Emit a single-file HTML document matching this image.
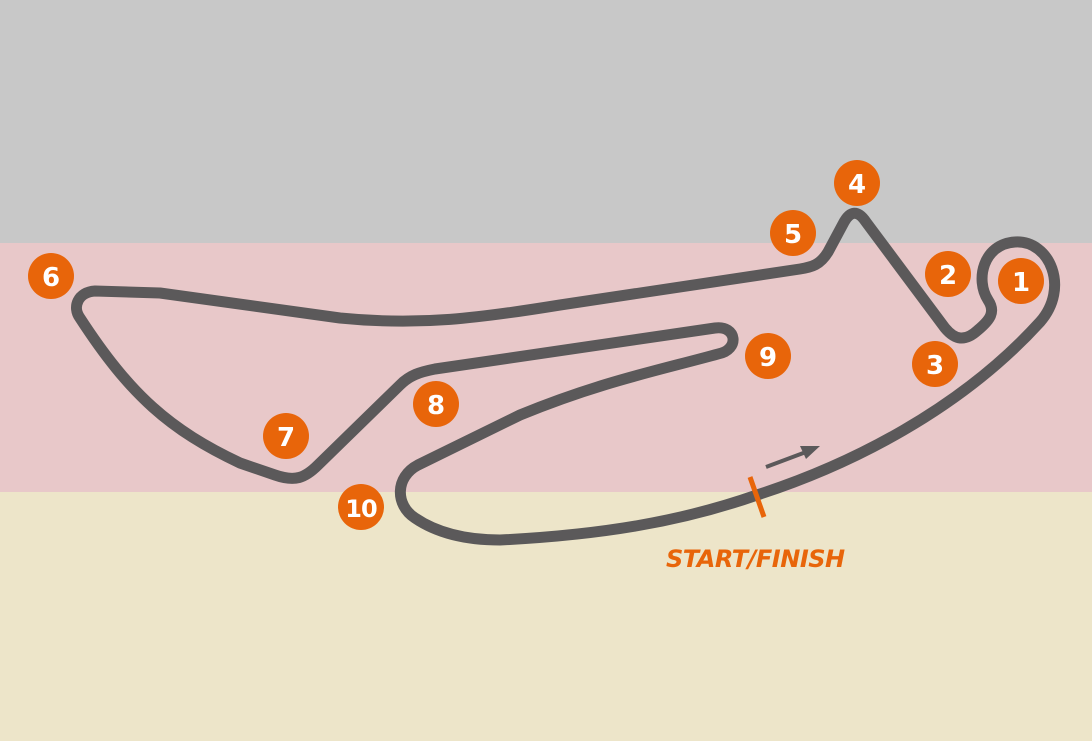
<!DOCTYPE html>
<html><head><meta charset="utf-8"><style>
html,body{margin:0;padding:0;width:1092px;height:741px;overflow:hidden}
svg{display:block}
text{font-family:"DejaVu Sans","Liberation Sans",sans-serif;font-weight:bold;fill:#fff}
</style></head><body>
<svg width="1092" height="741" viewBox="0 0 1092 741" xmlns="http://www.w3.org/2000/svg">
<rect x="0" y="0" width="1092" height="243" fill="#c8c8c8"/>
<rect x="0" y="243" width="1092" height="249" fill="#e8c8c9"/>
<rect x="0" y="492" width="1092" height="249" fill="#ede5c9"/>
<path d="M757,495 C850,465 960,410 1040,322 C1070,288 1050,240 1015,242 C983,244 975,280 988,300 C996,312 990,320 978,330 C965,342 955,340 945,328 L866,222 C858,210 850,210 843,224 L828,252 C820,265 812,267 800,269 L560,305 C480,318 420,326 340,318 L160,293 L95,291 C78,292 72,307 80,318 C130,395 170,430 240,463 L275,475 C295,482 305,478 318,465 L400,385 C410,375 420,372 435,369 L715,328 C737,325 740,350 718,354 C660,370 600,382 520,415 L418,465 C395,477 395,505 415,518 C440,535 470,540 500,540 C600,535 680,522 757,495 Z" fill="none" stroke="#5b595a" stroke-width="11" stroke-linejoin="round"/>
<line x1="750" y1="477" x2="764" y2="517" stroke="#e8650a" stroke-width="5"/>
<line x1="766" y1="467" x2="806" y2="452" stroke="#5b595a" stroke-width="4"/>
<polygon points="820,446 800,446 806,459" fill="#5b595a"/>
<g fill="#e8650a">
<circle cx="1021" cy="281" r="23"/><circle cx="948" cy="274" r="23"/><circle cx="935" cy="364" r="23"/>
<circle cx="857" cy="183" r="23"/><circle cx="793" cy="233" r="23"/><circle cx="51" cy="276" r="23"/>
<circle cx="286" cy="436" r="23"/><circle cx="436" cy="404" r="23"/><circle cx="768" cy="356" r="23"/>
<circle cx="361" cy="507" r="23"/>
</g>
<g font-size="26" text-anchor="middle">
<text x="1021" y="291">1</text><text x="948" y="284">2</text><text x="935" y="374">3</text>
<text x="857" y="193">4</text><text x="793" y="243">5</text><text x="51" y="286">6</text>
<text x="286" y="446">7</text><text x="436" y="414">8</text><text x="768" y="366">9</text>
<text x="361" y="517" font-size="24" letter-spacing="-1">10</text>
</g>
<text x="666" y="567" font-size="24" font-style="italic" style="fill:#e8650a" letter-spacing="-0.5">START/FINISH</text>
</svg>
</body></html>
